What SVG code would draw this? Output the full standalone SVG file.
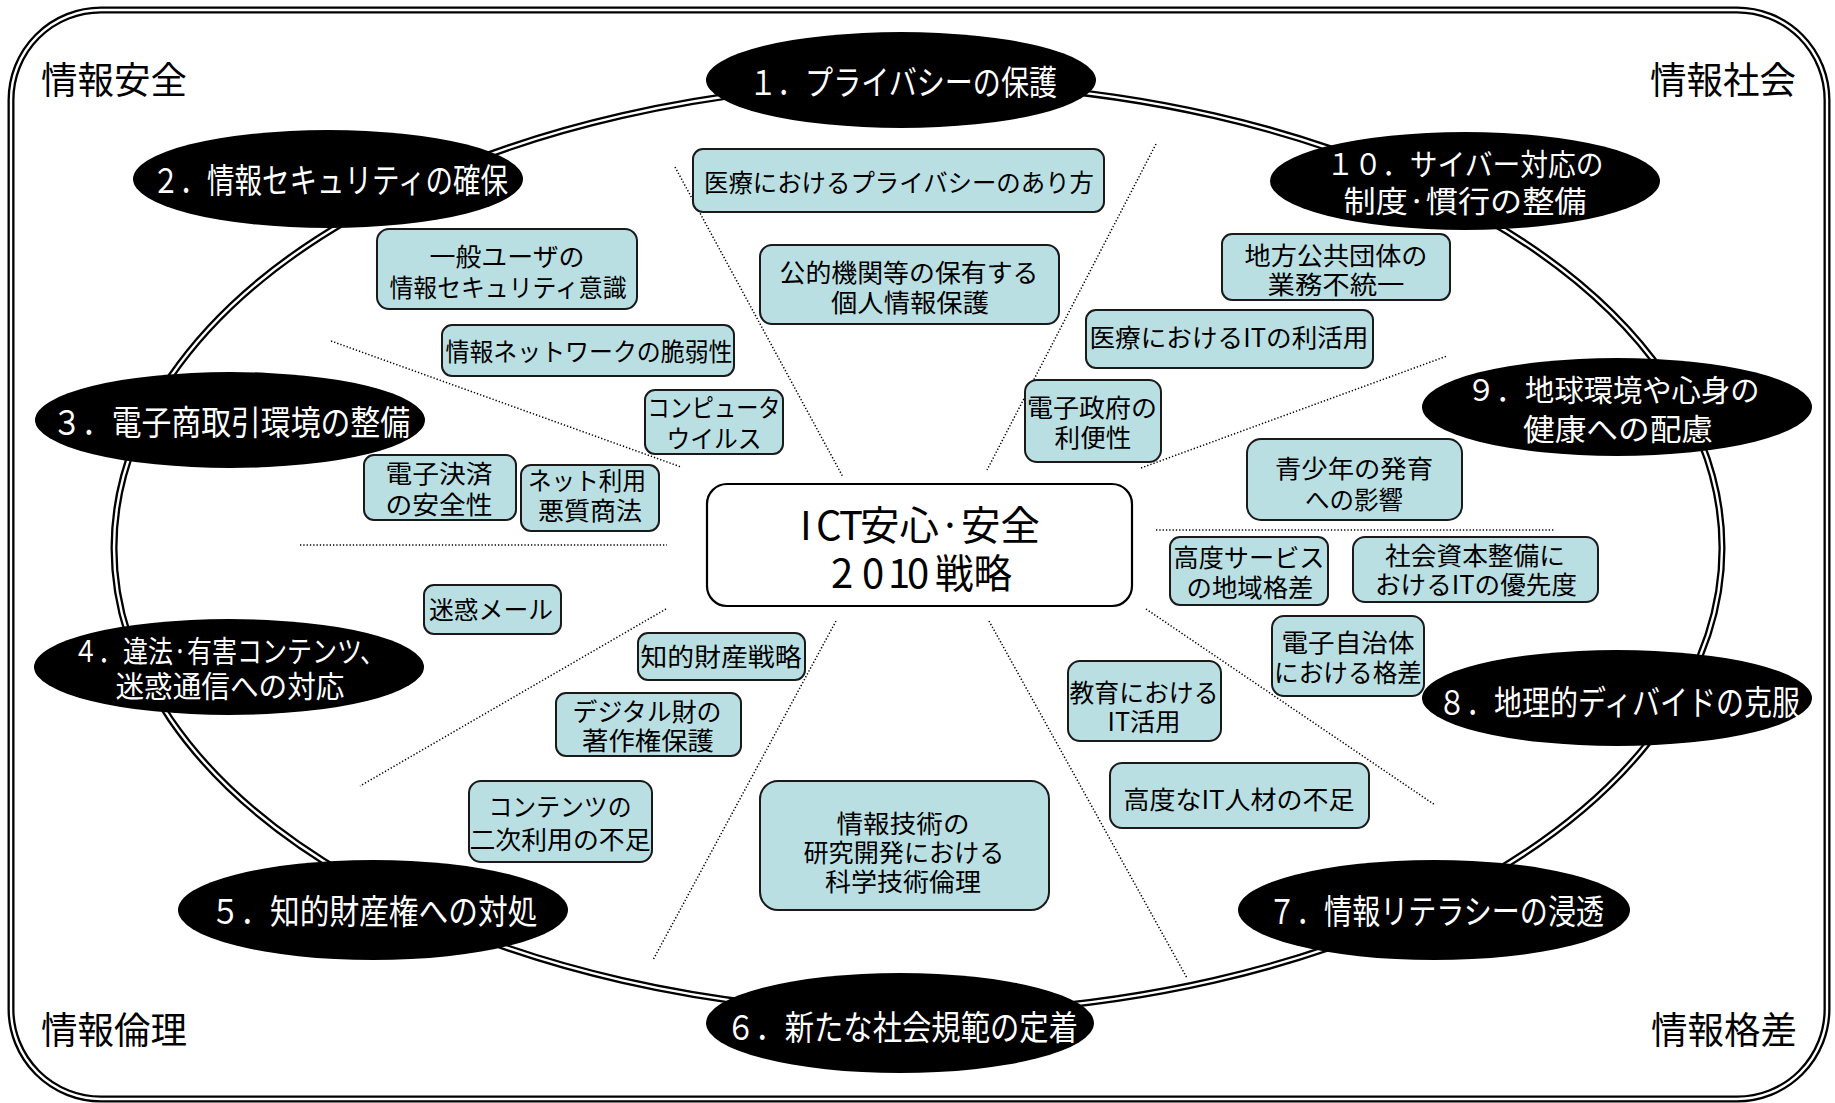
<svg xmlns="http://www.w3.org/2000/svg" width="1835" height="1103" viewBox="0 0 1835 1103">
<style>
text{font-family:"Noto Sans CJK JP","Noto Sans",sans-serif;text-anchor:middle}
.dbl{fill:none;stroke:#000;stroke-width:7}
.dbli{fill:none;stroke:#fff;stroke-width:2.4}
.hub{fill:#000}
.ht{fill:#fff;font-size:34px}
.ht2{fill:#fff;font-size:30px}
.box{fill:#badfe3;stroke:#1a1a1a;stroke-width:2}
.bt{fill:#000;font-size:25px}
.ct{fill:#000;font-size:40px}
.corner{fill:#000;font-size:37px}
.dot{stroke:#000;stroke-width:1.5;stroke-dasharray:1.3 2;fill:none}
</style>
<rect width="1835" height="1103" fill="#fff"/>
<g id="frame">
<rect class="dbl" x="11" y="10" width="1816" height="1089" rx="90"/>
<rect class="dbli" x="11" y="10" width="1816" height="1089" rx="90"/>
</g>
<g id="ring">
<ellipse class="dbl" cx="918" cy="548" rx="804" ry="465"/>
<ellipse class="dbli" cx="918" cy="548" rx="804" ry="465"/>
</g>
<g id="connectors">
<line class="dot" x1="675" y1="167" x2="843" y2="477"/>
<line class="dot" x1="1156" y1="144" x2="987" y2="470"/>
<line class="dot" x1="331" y1="341" x2="681" y2="467"/>
<line class="dot" x1="300" y1="545" x2="667" y2="545"/>
<line class="dot" x1="666" y1="609" x2="360" y2="786"/>
<line class="dot" x1="836" y1="621" x2="653" y2="960"/>
<line class="dot" x1="989" y1="621" x2="1187" y2="978"/>
<line class="dot" x1="1146" y1="609" x2="1435" y2="805"/>
<line class="dot" x1="1156" y1="530" x2="1554" y2="530"/>
<line class="dot" x1="1141" y1="468" x2="1447" y2="356"/>
</g>
<g id="corner-labels">
<text class="corner" x="114" y="94" textLength="146" lengthAdjust="spacingAndGlyphs">情報安全</text>
<text class="corner" x="1723" y="94" textLength="146" lengthAdjust="spacingAndGlyphs">情報社会</text>
<text class="corner" x="114" y="1044" textLength="146" lengthAdjust="spacingAndGlyphs">情報倫理</text>
<text class="corner" x="1724" y="1044" textLength="146" lengthAdjust="spacingAndGlyphs">情報格差</text>
</g>
<g id="hub1"><ellipse class="hub" cx="901" cy="80" rx="195" ry="48"/><text class="ht" x="903" y="95" textLength="308" lengthAdjust="spacingAndGlyphs">１．プライバシーの保護</text></g>
<g id="hub2"><ellipse class="hub" cx="328" cy="179" rx="195" ry="49"/><text class="ht" x="330" y="193" textLength="356" lengthAdjust="spacingAndGlyphs">２．情報セキュリティの確保</text></g>
<g id="hub3"><ellipse class="hub" cx="230" cy="420" rx="195" ry="48"/><text class="ht" x="231" y="435" textLength="358" lengthAdjust="spacingAndGlyphs">３．電子商取引環境の整備</text></g>
<g id="hub4"><ellipse class="hub" cx="229" cy="667" rx="195" ry="48"/><text class="ht2" x="229" y="662" textLength="312" lengthAdjust="spacingAndGlyphs">４．違法·有害コンテンツ、</text><text class="ht2" x="230" y="697" textLength="229" lengthAdjust="spacingAndGlyphs">迷惑通信への対応</text></g>
<g id="hub5"><ellipse class="hub" cx="373" cy="910" rx="195" ry="50"/><text class="ht" x="374" y="924" textLength="327" lengthAdjust="spacingAndGlyphs">５．知的財産権への対処</text></g>
<g id="hub6"><ellipse class="hub" cx="900" cy="1023" rx="194" ry="50"/><text class="ht" x="902" y="1040" textLength="352" lengthAdjust="spacingAndGlyphs">６．新たな社会規範の定着</text></g>
<g id="hub7"><ellipse class="hub" cx="1434" cy="910" rx="196" ry="50"/><text class="ht" x="1436" y="924" textLength="336" lengthAdjust="spacingAndGlyphs">７．情報リテラシーの浸透</text></g>
<g id="hub8"><ellipse class="hub" cx="1617" cy="698" rx="195" ry="48"/><text class="ht" x="1619" y="715" textLength="362" lengthAdjust="spacingAndGlyphs">８．地理的ディバイドの克服</text></g>
<g id="hub9"><ellipse class="hub" cx="1617" cy="407" rx="195" ry="49"/><text class="ht2" x="1613" y="401" textLength="293" lengthAdjust="spacingAndGlyphs">９．地球環境や心身の</text><text class="ht2" x="1618" y="440" textLength="190" lengthAdjust="spacingAndGlyphs">健康への配慮</text></g>
<g id="hub10"><ellipse class="hub" cx="1465" cy="181" rx="195" ry="49"/><text class="ht2" x="1465" y="175" textLength="277" lengthAdjust="spacingAndGlyphs">１０．サイバー対応の</text><text class="ht2" x="1465" y="212" textLength="243" lengthAdjust="spacingAndGlyphs">制度·慣行の整備</text></g>
<g id="center">
<rect x="707" y="484" width="425" height="122" rx="20" fill="#fff" stroke="#000" stroke-width="2.2"/>
<text class="ct" y="540" style="text-anchor:start"><tspan x="800">I</tspan><tspan x="816">C</tspan><tspan x="839">T</tspan></text>
<text class="ct" x="860" y="540" style="text-anchor:start" textLength="180" lengthAdjust="spacingAndGlyphs">安心·安全</text>
<text class="ct" y="588" style="text-anchor:start"><tspan x="831">2</tspan><tspan x="862">0</tspan><tspan x="888">1</tspan><tspan x="907">0</tspan></text>
<text class="ct" x="935" y="588" style="text-anchor:start" textLength="77" lengthAdjust="spacingAndGlyphs">戦略</text>
</g>
<g id="box-a"><rect class="box" x="693" y="149" width="411" height="63" rx="10"/><text class="bt" x="899" y="192" textLength="390" lengthAdjust="spacingAndGlyphs">医療におけるプライバシーのあり方</text></g>
<g id="box-b"><rect class="box" x="760" y="245" width="299" height="79" rx="12"/><text class="bt" x="909" y="282" textLength="259" lengthAdjust="spacingAndGlyphs">公的機関等の保有する</text><text class="bt" x="910" y="312" textLength="158" lengthAdjust="spacingAndGlyphs">個人情報保護</text></g>
<g id="box-c"><rect class="box" x="377" y="229" width="260" height="80" rx="12"/><text class="bt" x="507" y="266" textLength="155" lengthAdjust="spacingAndGlyphs">一般ユーザの</text><text class="bt" x="508" y="297" textLength="237" lengthAdjust="spacingAndGlyphs">情報セキュリティ意識</text></g>
<g id="box-d"><rect class="box" x="442" y="325" width="292" height="51" rx="10"/><text class="bt" x="589" y="361" textLength="287" lengthAdjust="spacingAndGlyphs">情報ネットワークの脆弱性</text></g>
<g id="box-e"><rect class="box" x="645" y="390" width="138" height="64" rx="10"/><text class="bt" x="714" y="417" textLength="133" lengthAdjust="spacingAndGlyphs">コンピュータ</text><text class="bt" x="714" y="448" textLength="95" lengthAdjust="spacingAndGlyphs">ウイルス</text></g>
<g id="box-f"><rect class="box" x="364" y="455" width="152" height="65" rx="10"/><text class="bt" x="439" y="483" textLength="107" lengthAdjust="spacingAndGlyphs">電子決済</text><text class="bt" x="439" y="514" textLength="107" lengthAdjust="spacingAndGlyphs">の安全性</text></g>
<g id="box-g"><rect class="box" x="521" y="465" width="138" height="66" rx="10"/><text class="bt" x="587" y="490" textLength="118" lengthAdjust="spacingAndGlyphs">ネット利用</text><text class="bt" x="590" y="520" textLength="104" lengthAdjust="spacingAndGlyphs">悪質商法</text></g>
<g id="box-h"><rect class="box" x="424" y="585" width="137" height="49" rx="10"/><text class="bt" x="491" y="619" textLength="124" lengthAdjust="spacingAndGlyphs">迷惑メール</text></g>
<g id="box-i"><rect class="box" x="638" y="633" width="167" height="47" rx="10"/><text class="bt" x="721" y="666" textLength="161" lengthAdjust="spacingAndGlyphs">知的財産戦略</text></g>
<g id="box-j"><rect class="box" x="556" y="693" width="185" height="63" rx="10"/><text class="bt" x="647" y="721" textLength="149" lengthAdjust="spacingAndGlyphs">デジタル財の</text><text class="bt" x="648" y="750" textLength="132" lengthAdjust="spacingAndGlyphs">著作権保護</text></g>
<g id="box-k"><rect class="box" x="469" y="781" width="183" height="81" rx="12"/><text class="bt" x="560" y="816" textLength="143" lengthAdjust="spacingAndGlyphs">コンテンツの</text><text class="bt" x="560" y="849" textLength="181" lengthAdjust="spacingAndGlyphs">二次利用の不足</text></g>
<g id="box-l"><rect class="box" x="760" y="781" width="289" height="129" rx="18"/><text class="bt" x="903" y="833" textLength="133" lengthAdjust="spacingAndGlyphs">情報技術の</text><text class="bt" x="904" y="862" textLength="201" lengthAdjust="spacingAndGlyphs">研究開発における</text><text class="bt" x="903" y="891" textLength="156" lengthAdjust="spacingAndGlyphs">科学技術倫理</text></g>
<g id="box-m"><rect class="box" x="1222" y="234" width="228" height="66" rx="10"/><text class="bt" x="1336" y="265" textLength="183" lengthAdjust="spacingAndGlyphs">地方公共団体の</text><text class="bt" x="1336" y="294" textLength="137" lengthAdjust="spacingAndGlyphs">業務不統一</text></g>
<g id="box-n"><rect class="box" x="1086" y="310" width="287" height="58" rx="10"/><text class="bt" x="1229" y="347" textLength="279" lengthAdjust="spacingAndGlyphs">医療におけるITの利活用</text></g>
<g id="box-o"><rect class="box" x="1025" y="380" width="136" height="82" rx="12"/><text class="bt" x="1092" y="417" textLength="130" lengthAdjust="spacingAndGlyphs">電子政府の</text><text class="bt" x="1093" y="447" textLength="77" lengthAdjust="spacingAndGlyphs">利便性</text></g>
<g id="box-p"><rect class="box" x="1247" y="439" width="215" height="81" rx="14"/><text class="bt" x="1354" y="478" textLength="158" lengthAdjust="spacingAndGlyphs">青少年の発育</text><text class="bt" x="1354" y="509" textLength="98" lengthAdjust="spacingAndGlyphs">への影響</text></g>
<g id="box-q"><rect class="box" x="1170" y="537" width="158" height="68" rx="10"/><text class="bt" x="1249" y="567" textLength="151" lengthAdjust="spacingAndGlyphs">高度サービス</text><text class="bt" x="1250" y="597" textLength="127" lengthAdjust="spacingAndGlyphs">の地域格差</text></g>
<g id="box-r"><rect class="box" x="1353" y="537" width="245" height="65" rx="12"/><text class="bt" x="1475" y="565" textLength="180" lengthAdjust="spacingAndGlyphs">社会資本整備に</text><text class="bt" x="1476" y="594" textLength="202" lengthAdjust="spacingAndGlyphs">おけるITの優先度</text></g>
<g id="box-s"><rect class="box" x="1272" y="616" width="152" height="80" rx="12"/><text class="bt" x="1348" y="652" textLength="133" lengthAdjust="spacingAndGlyphs">電子自治体</text><text class="bt" x="1348" y="682" textLength="148" lengthAdjust="spacingAndGlyphs">における格差</text></g>
<g id="box-t"><rect class="box" x="1068" y="661" width="153" height="80" rx="12"/><text class="bt" x="1144" y="702" textLength="149" lengthAdjust="spacingAndGlyphs">教育における</text><text class="bt" x="1144" y="731" textLength="73" lengthAdjust="spacingAndGlyphs">IT活用</text></g>
<g id="box-u"><rect class="box" x="1110" y="763" width="259" height="65" rx="12"/><text class="bt" x="1239" y="809" textLength="231" lengthAdjust="spacingAndGlyphs">高度なIT人材の不足</text></g>
</svg>
